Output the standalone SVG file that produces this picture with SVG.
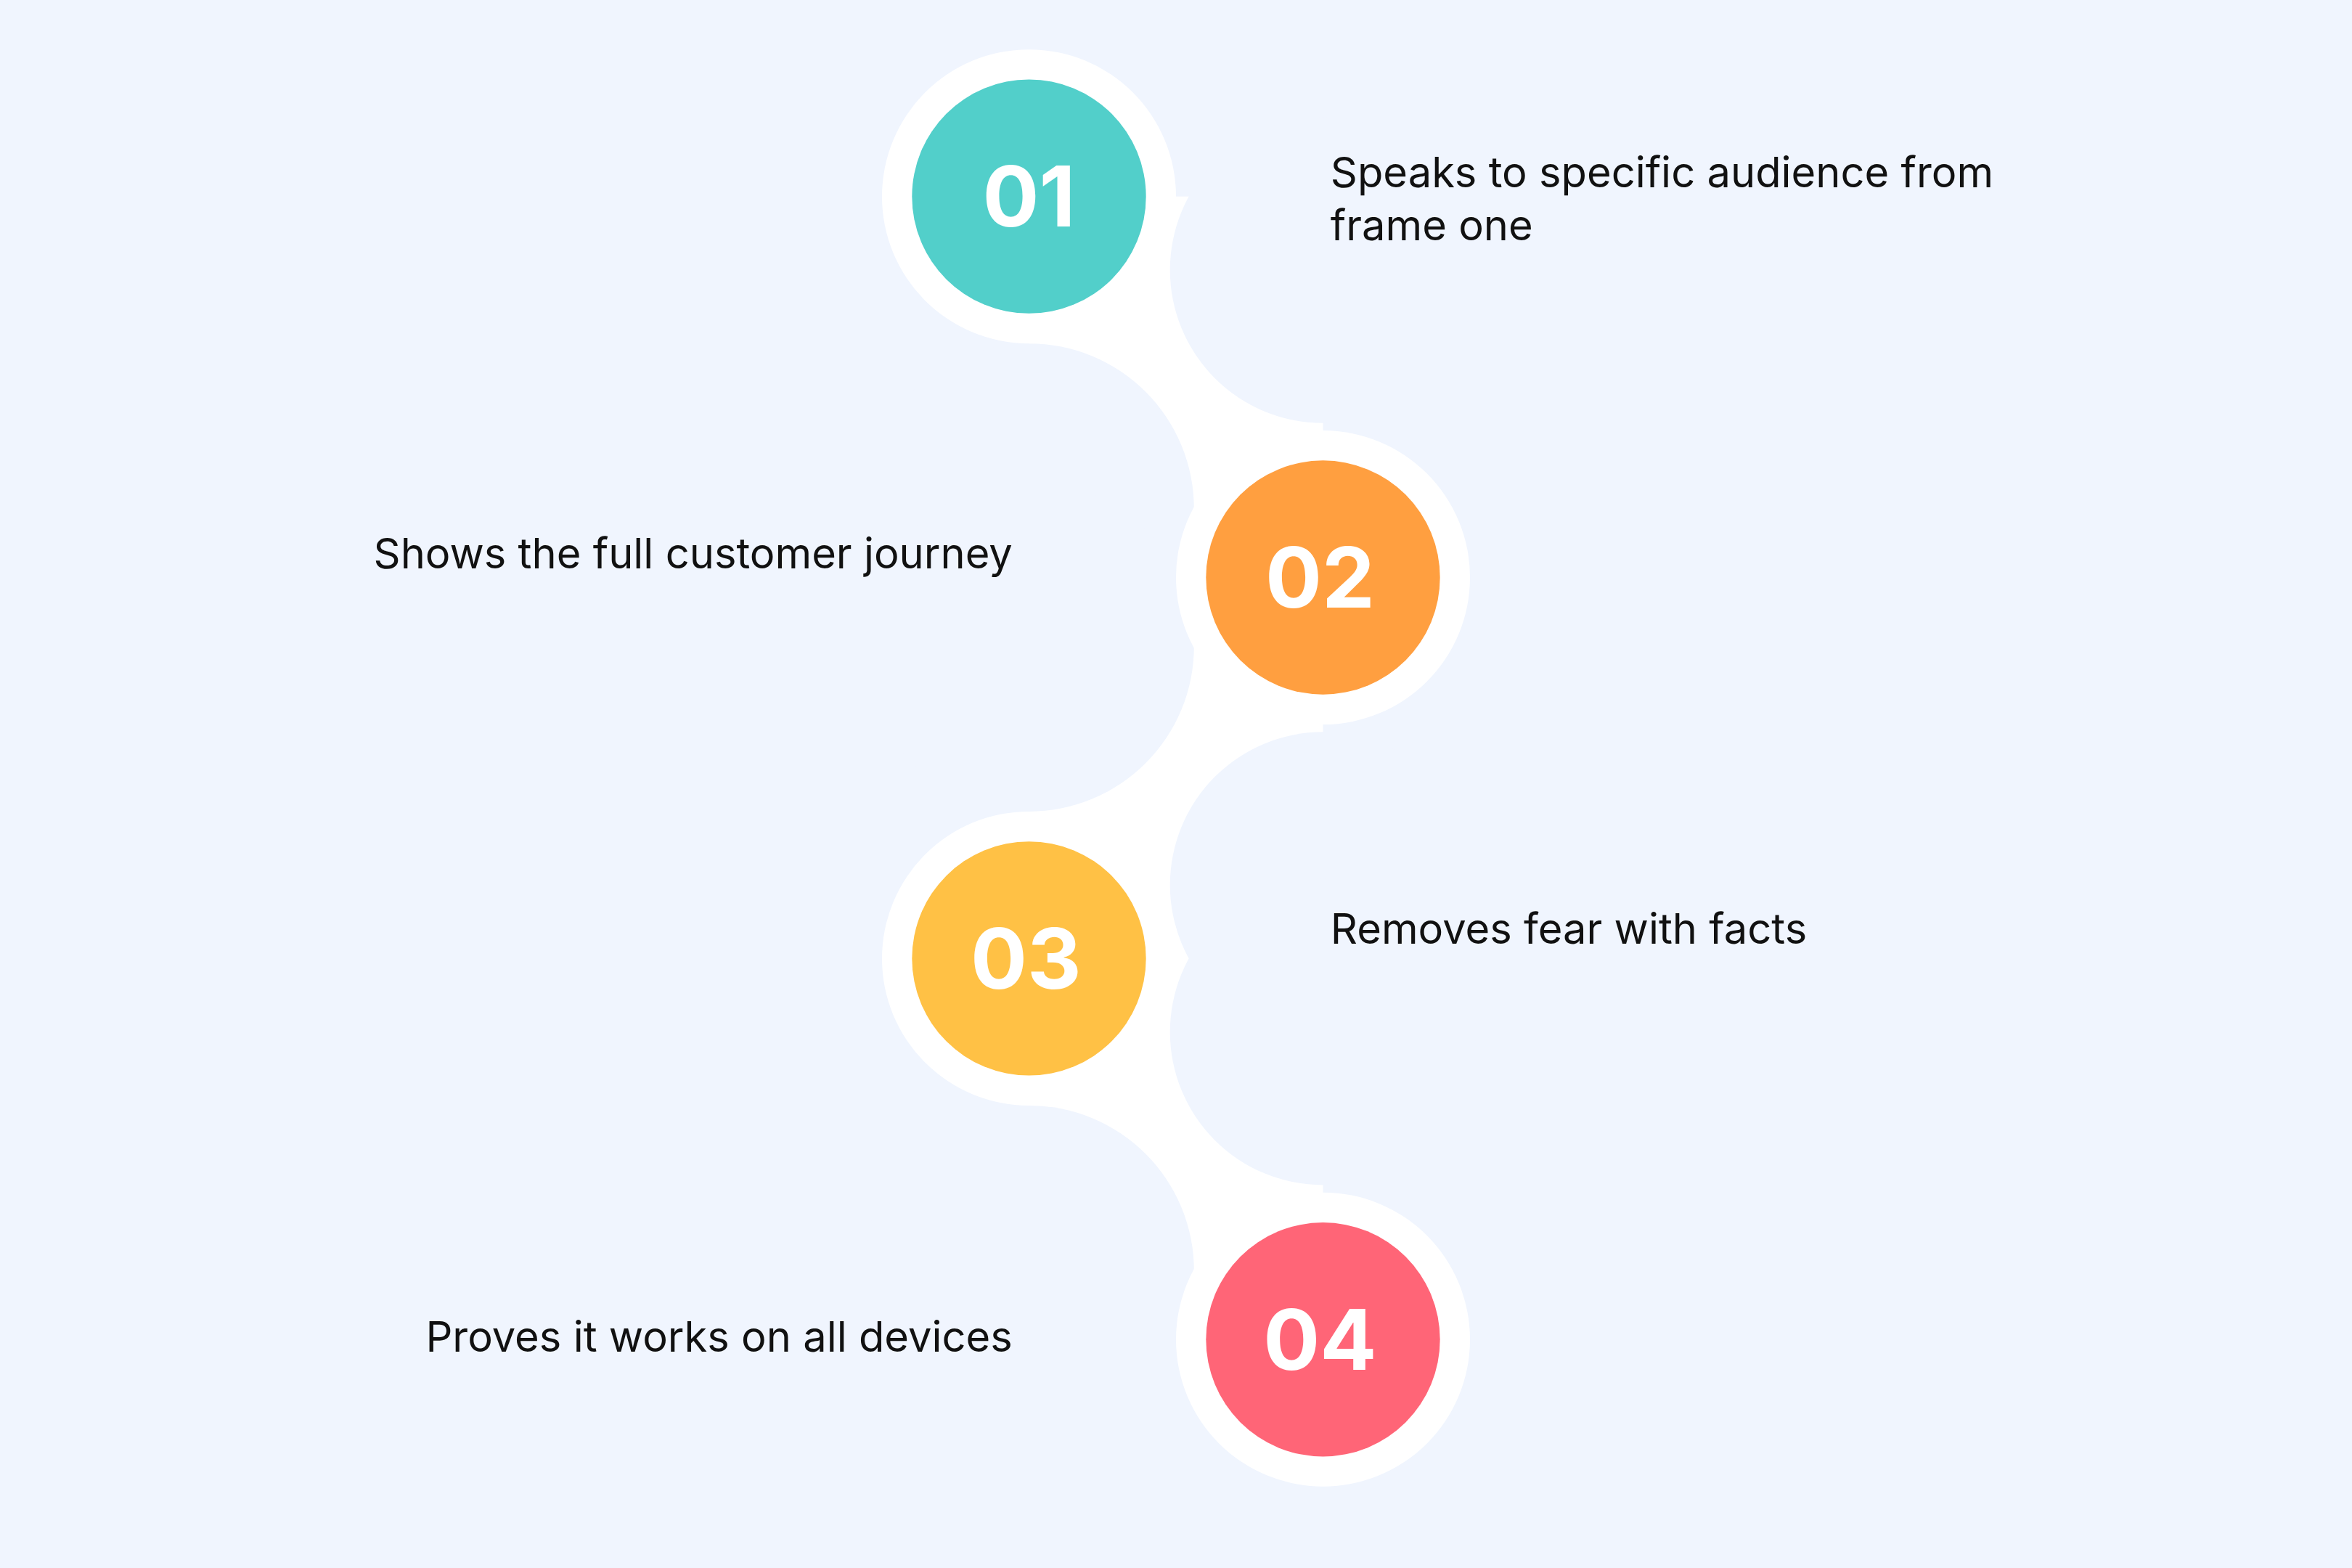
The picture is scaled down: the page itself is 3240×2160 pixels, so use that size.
<svg xmlns="http://www.w3.org/2000/svg" width="3240" height="2160" viewBox="0 0 3240 2160">
<style>
.bg{fill:#F0F5FE}
.w{fill:#FFFFFF}
.num{font-family:Inter,"Liberation Sans",sans-serif;font-weight:700;font-size:56px;fill:#FFFFFF;text-anchor:middle}
.lbl{font-family:Inter,"Liberation Sans",sans-serif;font-size:28px;fill:#111111}
</style>
<rect width="3240" height="2160" class="bg"/>
<g transform="scale(2.06633)">
<g id="connectors">
<rect class="w" x="686" y="131" width="196" height="762"/>
<circle class="bg" cx="686" cy="339" r="110"/>
<circle class="bg" cx="882" cy="180" r="102"/>
<circle class="bg" cx="686" cy="431" r="110"/>
<circle class="bg" cx="882" cy="590" r="102"/>
<circle class="bg" cx="686" cy="847" r="110"/>
<circle class="bg" cx="882" cy="688" r="102"/>
<rect class="bg" x="600" y="893" width="400" height="160"/>
<rect class="bg" x="600" y="0" width="80" height="131"/>
</g>
<g id="n1"><circle class="w" cx="686" cy="131" r="98"/><circle cx="686" cy="131" r="78" fill="#52CFCA"/><text class="num" x="686" y="151">01</text>
<text class="lbl" x="887" y="125">Speaks to specific audience from</text><text class="lbl" x="887" y="160">frame one</text></g>
<g id="n2"><circle class="w" cx="882" cy="385" r="98"/><circle cx="882" cy="385" r="78" fill="#FF9F40"/><text class="num" x="880" y="405">02</text>
<text class="lbl" x="675" y="379" text-anchor="end">Shows the full customer journey</text></g>
<g id="n3"><circle class="w" cx="686" cy="639" r="98"/><circle cx="686" cy="639" r="78" fill="#FFC145"/><text class="num" x="684" y="659">03</text>
<text class="lbl" x="887" y="629">Removes fear with facts</text></g>
<g id="n4"><circle class="w" cx="882" cy="893" r="98"/><circle cx="882" cy="893" r="78" fill="#FF6577"/><text class="num" x="880" y="913">04</text>
<text class="lbl" x="675" y="901" text-anchor="end">Proves it works on all devices</text></g>
</g>
</svg>
